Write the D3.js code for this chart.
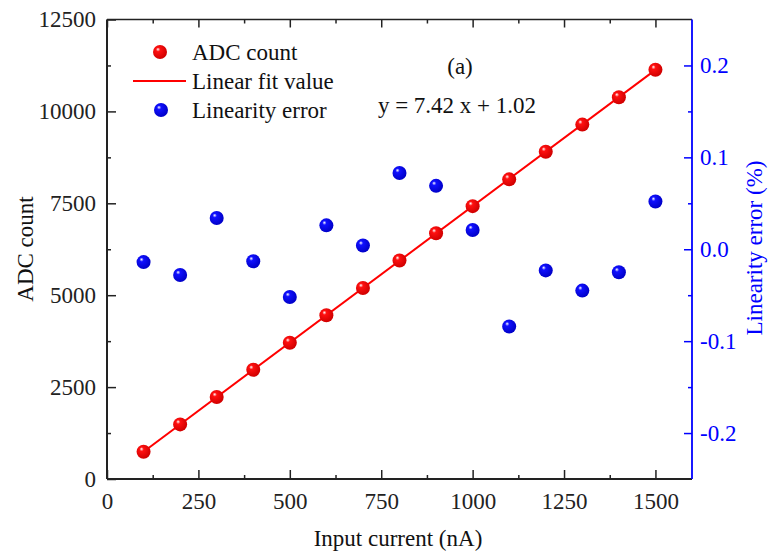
<!DOCTYPE html>
<html>
<head>
<meta charset="utf-8">
<script src="https://cdn.jsdelivr.net/npm/d3@7"></script>
<style>
  body { margin: 0; background: #fff; }
  svg text { font-family: "Liberation Serif", "Times New Roman", serif; }
</style>
</head>
<body>
<div id="chart"></div>
<script>
// data
const currents = [100, 200, 300, 400, 500, 600, 700, 800, 900, 1000, 1100, 1200, 1300, 1400, 1500];
const adcCounts = [743, 1485, 2230, 2970, 3708, 4455, 5197, 5945, 6686, 7423, 8152, 8903, 9641, 10385, 11135];
const linErr = [-0.014, -0.028, 0.034, -0.013, -0.052, 0.026, 0.004, 0.083, 0.069, 0.021, -0.084, -0.023, -0.045, -0.025, 0.052];
const fitSlope = 7.42, fitIntercept = 1.02;
const xTicks = [0, 250, 500, 750, 1000, 1250, 1500];
const yLeftTicks = [0, 2500, 5000, 7500, 10000, 12500];
const yRightTicks = [-0.2, -0.1, 0.0, 0.1, 0.2];
const legendItems = ["ADC count", "Linear fit value", "Linearity error"];

const width = 768, height = 555;
const margin = {top: 19.5, right: 76, bottom: 76, left: 107};
const fs = 23;
const serif = "'Liberation Serif', 'Times New Roman', serif";

const svg = d3.select("#chart")
  .append("svg")
  .attr("width", width)
  .attr("height", height);

const x = d3.scaleLinear().domain([0, 1600]).range([margin.left, width - margin.right]);
const yL = d3.scaleLinear().domain([0, 12500]).range([height - margin.bottom, margin.top]);
const yR = d3.scaleLinear().domain([-0.25, 0.25]).range([height - margin.bottom, margin.top]);

// sphere gradients
const defs = svg.append("defs");
function sphere(id, base, dark) {
  const g = defs.append("radialGradient").attr("id", id)
    .attr("cx", "40%").attr("cy", "40%").attr("r", "60%")
    .attr("fx", "35%").attr("fy", "30%");
  g.append("stop").attr("offset", "0%").attr("stop-color", "#ffffff");
  g.append("stop").attr("offset", "25%").attr("stop-color", base);
  g.append("stop").attr("offset", "100%").attr("stop-color", dark);
}
sphere("redBall", "#ff1010", "#d00000");
sphere("blueBall", "#1010ff", "#0000c8");

const axisColor = "#222";
const blue = "#0000ff";

function styleAxis(g, color) {
  g.attr("font-family", serif).attr("font-size", fs);
  g.selectAll(".domain").remove();
  g.selectAll("line").attr("stroke", color).attr("stroke-width", 1.5);
  g.selectAll("text").attr("fill", color).attr("font-size", fs);
}

// bottom axis
const gx = svg.append("g").attr("transform", `translate(0,${height - margin.bottom})`)
  .call(d3.axisBottom(x).tickValues(xTicks).tickSizeInner(-9).tickSizeOuter(0).tickPadding(14).tickFormat(d3.format("d")));
styleAxis(gx, axisColor);
svg.append("g").attr("transform", `translate(0,${height - margin.bottom})`)
  .call(d3.axisBottom(x).tickValues(d3.range(125, 1600, 250)).tickSize(-4).tickFormat(""))
  .call(g => styleAxis(g, axisColor));

// top axis (ticks only)
svg.append("g").attr("transform", `translate(0,${margin.top})`)
  .call(d3.axisTop(x).tickValues(xTicks).tickSize(-8).tickFormat(""))
  .call(g => styleAxis(g, axisColor));
svg.append("g").attr("transform", `translate(0,${margin.top})`)
  .call(d3.axisTop(x).tickValues(d3.range(125, 1600, 250)).tickSize(-4).tickFormat(""))
  .call(g => styleAxis(g, axisColor));

// left axis
const gyl = svg.append("g").attr("transform", `translate(${margin.left},0)`)
  .call(d3.axisLeft(yL).tickValues(yLeftTicks).tickSizeInner(-9).tickSizeOuter(0).tickPadding(11).tickFormat(d3.format("d")));
styleAxis(gyl, axisColor);
svg.append("g").attr("transform", `translate(${margin.left},0)`)
  .call(d3.axisLeft(yL).tickValues(d3.range(1250, 12500, 2500)).tickSize(-4).tickFormat(""))
  .call(g => styleAxis(g, axisColor));

// right axis
const gyr = svg.append("g").attr("transform", `translate(${width - margin.right},0)`)
  .call(d3.axisRight(yR).tickValues(yRightTicks).tickSizeInner(-8).tickSizeOuter(0).tickPadding(8)
    .tickFormat(d => d3.format(".1f")(d).replace("−", "-")));
styleAxis(gyr, blue);
svg.append("g").attr("transform", `translate(${width - margin.right},0)`)
  .call(d3.axisRight(yR).tickValues([-0.15, -0.05, 0.05, 0.15]).tickSize(-4).tickFormat(""))
  .call(g => styleAxis(g, blue));

// frame
svg.append("line").attr("x1", margin.left).attr("x2", width - margin.right)
  .attr("y1", height - margin.bottom).attr("y2", height - margin.bottom)
  .attr("stroke", axisColor).attr("stroke-width", 2);
svg.append("line").attr("x1", margin.left).attr("x2", width - margin.right)
  .attr("y1", margin.top).attr("y2", margin.top)
  .attr("stroke", axisColor).attr("stroke-width", 1.5);
svg.append("line").attr("x1", margin.left).attr("x2", margin.left)
  .attr("y1", margin.top).attr("y2", height - margin.bottom)
  .attr("stroke", axisColor).attr("stroke-width", 2);
svg.append("line").attr("x1", width - margin.right).attr("x2", width - margin.right)
  .attr("y1", margin.top).attr("y2", height - margin.bottom)
  .attr("stroke", blue).attr("stroke-width", 1.8);

// fit line
const fitX = [currents[0], currents[currents.length - 1]];
svg.append("path")
  .datum(fitX)
  .attr("fill", "none")
  .attr("stroke", "#ff0000")
  .attr("stroke-width", 2)
  .attr("d", d3.line().x(d => x(d)).y(d => yL(fitSlope * d + fitIntercept)));

const r = 7;
// ADC points
svg.append("g").selectAll("circle")
  .data(currents)
  .join("circle")
  .attr("cx", d => x(d))
  .attr("cy", (d, i) => yL(adcCounts[i]))
  .attr("r", r)
  .attr("fill", "url(#redBall)");

// linearity error points
svg.append("g").selectAll("circle")
  .data(currents)
  .join("circle")
  .attr("cx", d => x(d))
  .attr("cy", (d, i) => yR(linErr[i]))
  .attr("r", r)
  .attr("fill", "url(#blueBall)");

// legend
const leg = svg.append("g");
const legY = [52, 81, 110];
leg.append("circle").attr("cx", 160).attr("cy", legY[0]).attr("r", r).attr("fill", "url(#redBall)");
leg.append("line").attr("x1", 133).attr("x2", 186).attr("y1", legY[1]).attr("y2", legY[1])
  .attr("stroke", "#ff0000").attr("stroke-width", 2);
leg.append("circle").attr("cx", 161).attr("cy", legY[2]).attr("r", r).attr("fill", "url(#blueBall)");
leg.selectAll("text")
  .data(legendItems)
  .join("text")
  .attr("x", 192)
  .attr("y", (d, i) => legY[i])
  .attr("dy", "0.33em")
  .attr("font-size", fs)
  .attr("fill", "#111")
  .text(d => d);

// annotations
svg.append("text").attr("x", 460).attr("y", 74).attr("text-anchor", "middle")
  .attr("font-size", fs).attr("fill", "#111").text("(a)");
svg.append("text").attr("x", 457).attr("y", 113).attr("text-anchor", "middle")
  .attr("font-size", fs).attr("fill", "#111").text(`y = ${fitSlope} x + ${fitIntercept}`);

// axis titles
svg.append("text").attr("x", 398).attr("y", 546)
  .attr("text-anchor", "middle").attr("font-size", fs).attr("fill", "#111")
  .text("Input current (nA)");
svg.append("text").attr("transform", "translate(33,249) rotate(-90)")
  .attr("text-anchor", "middle").attr("font-size", fs).attr("fill", "#111")
  .text("ADC count");
svg.append("text").attr("transform", "translate(762,248) rotate(-90)")
  .attr("text-anchor", "middle").attr("font-size", fs).attr("fill", blue)
  .text("Linearity error (%)");
</script>
</body>
</html>
